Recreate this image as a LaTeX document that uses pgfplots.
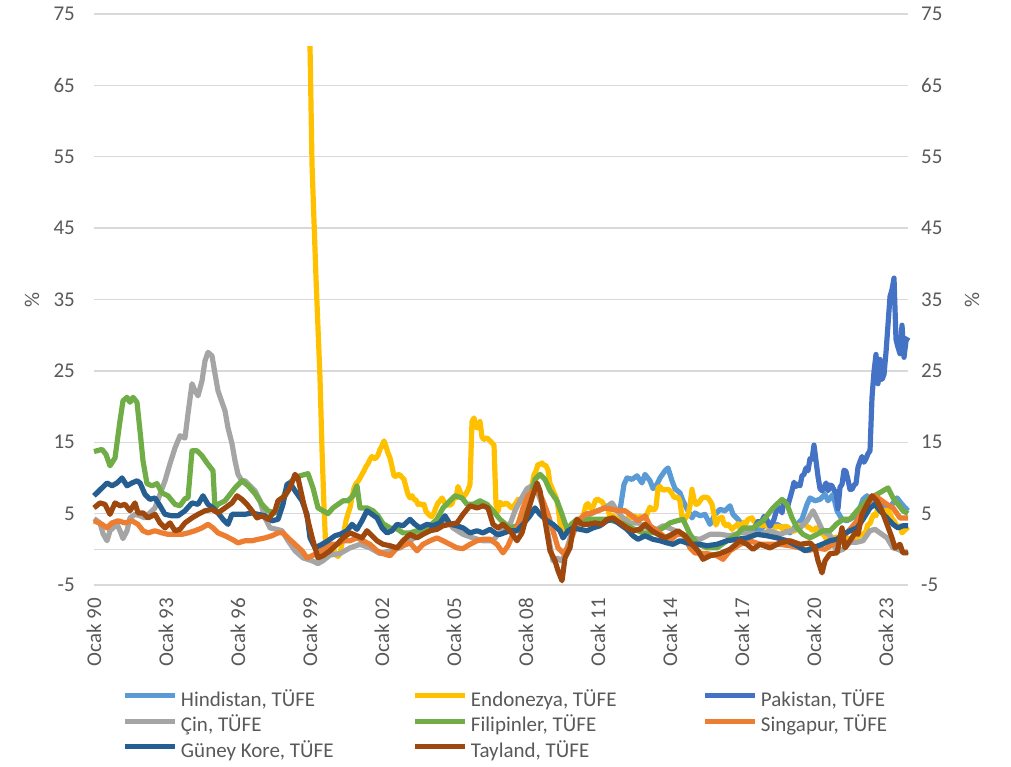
\documentclass[border=0pt]{standalone}
\usepackage{fontspec}
\setmainfont{Carlito}
\usepackage{pgfplots}
\pgfplotsset{compat=1.18}
\definecolor{cHin}{HTML}{5B9BD5}
\definecolor{cEnd}{HTML}{FFC000}
\definecolor{cPak}{HTML}{4472C4}
\definecolor{cCin}{HTML}{A5A5A5}
\definecolor{cFil}{HTML}{70AD47}
\definecolor{cSin}{HTML}{ED7D31}
\definecolor{cKor}{HTML}{255E91}
\definecolor{cTay}{HTML}{9E480E}
\definecolor{cGrid}{HTML}{D9D9D9}
\definecolor{cTxt}{HTML}{595959}
\newcommand{\bigf}{\fontsize{21}{25}\selectfont}
\newcommand{\lb}[1]{\makebox[230pt][l]{#1}}
\begin{document}
\begin{tikzpicture}
\useasboundingbox (0pt,0pt) rectangle (1011pt,766pt);
\begin{axis}[
  at={(94pt,181pt)}, anchor=south west,
  width=814pt, height=571pt, scale only axis,
  xmin=0, xmax=407, ymin=-5, ymax=75,
  clip=false,
  ytick={-5,5,15,25,35,45,55,65,75},
  xtick={0,36,72,108,144,180,216,252,288,324,360,396},
  xticklabels={Ocak 90,Ocak 93,Ocak 96,Ocak 99,Ocak 02,Ocak 05,Ocak 08,Ocak 11,Ocak 14,Ocak 17,Ocak 20,Ocak 23},
  axis line style={draw=none},
  major tick length=0pt,
  ymajorgrids, major grid style={cGrid, line width=1.3pt},
  tick label style={font=\bigf, color=cTxt, inner sep=0pt},
  /pgf/number format/assume math mode=true,
  yticklabel shift=19pt,
  xticklabel style={rotate=90, anchor=east},
  xticklabel shift=13pt,
  ylabel={\%}, ylabel style={at={(axis description cs:-0.0762,0.5)}, anchor=center, font=\bigf, color=cTxt},
  every axis plot/.append style={line width=5.2pt, line join=round, no markers},
  legend columns=3,
  legend cell align=left,
  legend style={at={(axis description cs:0.0356,-0.1795)}, anchor=north west, draw=none, fill=none,
     font=\bigf, text=cTxt, inner sep=0pt, outer sep=0pt, row sep=3pt,
     /tikz/every odd column/.append style={column sep=1pt},
     /tikz/every even column/.append style={column sep=0pt}},
  legend image code/.code={\draw[#1, line width=5pt] (0pt,0.3em) -- (50pt,0.3em);},
]
\draw[cGrid, line width=1.3pt] (axis cs:0,0) -- (axis cs:407,0);
\addplot[cHin] coordinates {(263,5.5) (265,9.1) (266.5,10.0) (269,9.8) (271.5,10.3) (274,9.3) (275.5,10.5) (278,9.6) (279.5,8.5) (281.5,9.1) (283,10.0) (285.5,11.0) (287,11.4) (289,9.6) (290.5,8.5) (293,7.9) (294.5,6.8) (297,5.4) (299,4.4) (300.5,5.1) (303,4.7) (305.5,4.9) (308,3.5) (310.5,4.9) (313,5.6) (315.5,5.4) (318,6.1) (319.5,4.9) (322,4.2) (324.5,3.3) (327,2.6) (329.5,3.0) (333,2.6) (335.5,3.5) (338,3.3) (341.5,3.5) (344.5,3.0) (348,2.3) (351.5,3.5) (354,4.2) (356.5,6.3) (358,7.2) (360.5,6.8) (363,7.0) (365.5,7.7) (367,6.8) (369.5,7.7) (371.5,5.4) (374,4.2) (376.5,4.0) (379,4.4) (381.5,4.7) (383,5.8) (384.5,7.0) (386.5,7.5) (389,6.8) (391.5,6.3) (394,6.1) (396.5,5.4) (399,6.3) (401.5,7.2) (404,6.3) (407,5.4)};
\addlegendentry{\lb{Hindistan, TÜFE}}
\addplot[cEnd] coordinates {(108,70.5) (109,54) (110,46) (111,38) (112,31) (113,24) (114,14) (115,6) (116,-0.5) (117,-1.0) (118,-0.3) (119,0.3) (120,-0.2) (121,-0.8) (122,-1.0) (123,-0.6) (124,0.8) (125,2.5) (126,4.0) (127,5.0) (128,5.8) (129,7.3) (130,8.6) (131,9.2) (132,9.5) (133,10.0) (134,10.5) (135,11.0) (136,11.6) (137,12.0) (138,12.6) (139,13.0) (140,12.7) (141,12.8) (142,13.2) (143,14.0) (144,14.5) (145,15.2) (146,14.4) (147,13.5) (148,12.8) (149,11.6) (150,10.3) (151,10.2) (152,10.5) (153,10.4) (154,10.1) (155,9.8) (156,8.7) (157,7.7) (158,7.2) (159,7.5) (160,7.0) (161,6.9) (162,6.3) (163,6.4) (164,6.2) (165,6.3) (166,5.3) (167,5.0) (168,4.7) (169,4.6) (170,5.1) (171,5.9) (172,6.5) (173,6.8) (174,7.2) (175,6.7) (176,6.3) (177,6.2) (178,6.2) (179,6.4) (180,7.3) (181,7.2) (182,8.8) (183,8.1) (184,7.4) (185,7.4) (186,7.8) (187,8.3) (188,9.1) (189,17.9) (190,18.4) (191,17.1) (192,17.0) (193,17.9) (194,15.7) (195,15.4) (196,15.6) (197,15.5) (198,15.2) (199,14.9) (200,14.6) (201,6.3) (202,5.3) (203,6.6) (204,6.3) (205,6.3) (206,6.5) (207,6.3) (208,6.0) (209,5.8) (210,6.1) (211,6.5) (212,7.0) (213,6.9) (214,6.7) (215,6.6) (216,7.4) (217,7.4) (218,8.2) (219,9.0) (220,10.4) (221,11.0) (222,11.9) (223,11.9) (224,12.1) (225,11.8) (226,11.7) (227,11.1) (228,9.2) (229,8.6) (230,7.9) (231,7.3) (232,6.0) (233,3.7) (234,2.7) (235,2.8) (236,2.8) (237,2.6) (238,2.4) (239,2.8) (240,3.7) (241,3.8) (242,3.4) (243,3.9) (244,4.2) (245,5.1) (246,6.2) (247,6.4) (248,5.8) (249,5.7) (250,6.3) (251,7.0) (252,7.0) (253,6.8) (254,6.7) (255,6.2) (256,6.0) (257,5.5) (258,4.6) (259,4.8) (260,4.6) (261,4.4) (262,4.2) (263,3.8) (264,3.7) (265,3.6) (266,4.0) (267,4.5) (268,4.5) (269,4.5) (270,4.6) (271,4.6) (272,4.3) (273,4.6) (274,4.3) (275,4.3) (276,4.6) (277,5.3) (278,5.9) (279,5.6) (280,5.5) (281,5.9) (282,8.6) (283,8.8) (284,8.4) (285,8.3) (286,8.4) (287,8.4) (288,8.2) (289,7.8) (290,7.3) (291,7.3) (292,7.3) (293,6.7) (294,4.5) (295,4.0) (296,4.5) (297,4.8) (298,6.2) (299,8.4) (300,7.0) (301,6.3) (302,6.4) (303,6.8) (304,7.2) (305,7.3) (306,7.3) (307,7.2) (308,6.8) (309,6.3) (310,4.9) (311,3.4) (312,4.1) (313,4.4) (314,4.5) (315,3.6) (316,3.3) (317,3.5) (318,3.2) (319,2.8) (320,3.1) (321,3.3) (322,3.6) (323,3.0) (324,3.5) (325,3.8) (326,3.6) (327,4.2) (328,4.3) (329,4.4) (330,3.9) (331,3.8) (332,3.7) (333,3.6) (334,3.3) (335,3.6) (336,3.3) (337,3.2) (338,3.4) (339,3.4) (340,3.2) (341,3.1) (342,3.2) (343,3.2) (344,2.9) (345,3.2) (346,3.2) (347,3.1) (348,2.8) (349,2.6) (350,2.5) (351,2.8) (352,3.3) (353,3.3) (354,3.3) (355,3.5) (356,3.4) (357,3.1) (358,3.0) (359,2.7) (360,2.7) (361,3.0) (362,3.0) (363,2.7) (364,2.2) (365,2.0) (366,1.5) (367,1.3) (368,1.4) (369,1.4) (370,1.6) (371,1.7) (372,1.6) (373,1.4) (374,1.4) (375,1.4) (376,1.7) (377,1.3) (378,1.5) (379,1.6) (380,1.6) (381,1.7) (382,1.8) (383,1.9) (384,2.2) (385,2.1) (386,2.6) (387,3.5) (388,3.6) (389,4.4) (390,4.9) (391,4.7) (392,6.0) (393,5.7) (394,5.4) (395,5.5) (396,5.3) (397,5.5) (398,5.0) (399,4.3) (400,4.0) (401,3.5) (402,3.1) (403,3.3) (404,2.3) (405,2.6) (406,2.9) (407,2.6)};
\addlegendentry{\lb{Endonezya, TÜFE}}
\addplot[cPak] coordinates {(330,2.9) (331,3.4) (332,3.9) (333,3.8) (334,4.0) (335,4.6) (336,4.4) (337,3.8) (338,3.2) (339,3.7) (340,4.2) (341,5.2) (342,5.8) (343,5.8) (344,5.1) (345,6.8) (346,6.5) (347,6.2) (348,7.2) (349,8.2) (350,9.4) (351,8.8) (352,9.1) (353,8.9) (354,10.3) (355,10.5) (356,11.4) (357,11.0) (358,12.7) (359,12.6) (360,14.6) (361,12.4) (362,10.2) (363,8.5) (364,8.2) (365,8.6) (366,9.3) (367,8.2) (368,9.0) (369,8.9) (370,8.3) (371,8.0) (372,5.7) (373,8.7) (374,9.1) (375,11.1) (376,10.9) (377,9.7) (378,8.4) (379,8.4) (380,9.0) (381,9.2) (382,11.5) (383,12.3) (384,13.0) (385,12.2) (386,12.7) (387,13.4) (388,13.8) (389,21.3) (390,24.9) (391,27.3) (392,23.2) (393,26.6) (394,23.8) (395,24.5) (396,27.6) (397,31.5) (398,35.4) (399,36.4) (400,38.0) (401,29.4) (402,28.3) (403,27.4) (404,31.4) (405,26.9) (406,29.2) (407,29.7)};
\addlegendentry{Pakistan, TÜFE}
\addplot[cCin] coordinates {(0,4.3) (3,3.7) (4.5,2.2) (6.5,1.2) (8,2.6) (9.5,3.0) (11.5,3.5) (13,2.6) (14.5,1.5) (16.5,2.6) (18,4.4) (20.5,4.9) (23,4.7) (25.5,4.4) (28,5.1) (30.5,5.8) (33,7.7) (35.5,9.6) (38,12.0) (40.5,14.2) (43,15.9) (45.5,15.6) (47,19.0) (49,23.2) (50.5,22.2) (52,21.5) (54,23.6) (55.5,26.4) (57,27.6) (59,27.1) (60.5,24.6) (62,22.2) (64,20.6) (65.5,19.4) (67,17.0) (69,14.8) (70.5,12.4) (72,10.5) (74,9.6) (75.5,9.6) (78,8.9) (80.5,8.2) (83,6.8) (85.5,4.4) (88,3.0) (91.5,2.8) (94,2.6) (97,1.2) (100.5,-0.2) (104.5,-1.2) (109,-1.6) (112,-2.0) (114.5,-1.6) (118,-0.8) (123,-0.6) (128,0.2) (133,0.7) (138,0.2) (143,-0.6) (148,-0.2) (153,0.2) (158,1.2) (163,2.1) (168,2.6) (173,3.3) (176.5,4.2) (179.5,3.0) (184.5,2.1) (189.5,1.6) (194.5,1.2) (199.5,1.2) (204.5,3.0) (208,3.5) (210.5,5.4) (213,6.8) (216.5,8.5) (219,8.9) (221.5,8.2) (224,6.3) (226.5,3.0) (228,0.5) (229.5,-1.6) (231.5,-1.2) (233.5,-1.6) (235,-1.0) (236.5,0.2) (238,1.5) (239.5,3.0) (242,3.5) (244,4.2) (248,4.9) (251.5,5.4) (255.5,5.8) (259,6.5) (261.5,5.4) (264.5,4.4) (268,3.7) (272,3.7) (276.5,3.0) (281.5,2.8) (284.5,3.3) (289,2.8) (293,2.3) (298,1.6) (303,1.4) (308,2.1) (313,2.1) (318,1.9) (323,2.3) (328,2.3) (333,2.1) (338,2.6) (343,2.1) (348,2.6) (353,3.0) (356.5,4.0) (359.5,5.4) (362,4.0) (364.5,2.5) (368,2.0) (370,0.5) (371.5,-0.3) (374.5,0.0) (378,1.0) (381.5,1.0) (384.5,1.2) (388,2.6) (390.5,2.8) (393,2.3) (396.5,1.6) (399.5,0.2) (402,0.0) (405.5,-0.5) (407,-0.3)};
\addlegendentry{\lb{Çin, TÜFE}}
\addplot[cFil] coordinates {(0,13.7) (4,14.0) (6,13.3) (8,11.7) (10.5,12.8) (13,18.0) (14.5,20.8) (16.5,21.3) (18,20.6) (19.5,21.3) (21.5,20.6) (23,16.6) (24.5,12.4) (26.5,9.2) (29,8.9) (31.5,9.2) (34,7.9) (37,7.5) (40.5,6.3) (43,6.1) (45.5,7.1) (47,7.2) (49,13.8) (51.5,13.8) (54,13.1) (56.5,12.1) (59.5,11.0) (60.5,5.8) (62,6.3) (65.5,6.8) (68,7.7) (70.5,8.6) (74,9.6) (77,8.9) (80.5,7.8) (84,6.3) (87,5.4) (90.5,5.1) (94,6.8) (97,9.1) (100.5,10.0) (103,10.3) (107,10.6) (109.5,8.6) (112,5.8) (114.5,5.4) (117,5.0) (119.5,5.8) (122,6.3) (124.5,6.8) (127,6.8) (129.5,7.5) (131.5,8.9) (133,5.8) (136.5,5.8) (139.5,5.4) (142,4.7) (144.5,3.6) (148,3.0) (151.5,2.85) (154.5,2.3) (158,2.3) (161.5,2.6) (164.5,2.85) (168,3.3) (171.5,4.2) (174.5,5.8) (178,6.8) (180.5,7.5) (184,7.2) (186.5,6.3) (189.5,6.3) (193,6.8) (196.5,6.3) (199.5,5.4) (203,4.2) (208,3.0) (211.5,3.3) (214.5,4.9) (218,7.2) (220.5,9.8) (223,10.5) (225.5,9.8) (228,8.2) (231.5,6.8) (234,4.9) (236.5,2.85) (239,3.6) (241.5,4.2) (248,4.2) (256.5,4.2) (264.5,3.6) (269.5,2.9) (274.5,2.3) (279.5,2.3) (284.5,3.0) (288,3.7) (291.5,4.0) (294.5,4.2) (298,2.1) (301.5,0.8) (306.5,0.2) (311.5,0.2) (316.5,1.2) (321.5,2.1) (324.5,3.0) (329.5,3.0) (334.5,4.0) (339.5,5.8) (344,7.0) (346.5,6.3) (349,4.4) (351.5,3.0) (354.5,2.1) (358,1.6) (361.5,2.1) (364.5,2.6) (368,2.6) (371.5,3.6) (374.5,4.2) (378,4.2) (381.5,5.4) (384.5,6.3) (388,7.2) (391.5,7.7) (394.5,8.2) (397,8.6) (399.5,7.2) (402,6.3) (404.5,5.4) (407,5.0)};
\addlegendentry{\lb{Filipinler, TÜFE}}
\addplot[cSin] coordinates {(0,4.0) (4,3.5) (6.5,3.0) (9,3.7) (12,4.0) (15.5,3.7) (19,4.0) (22,3.5) (24.5,2.6) (27,2.3) (30.5,2.6) (34,2.3) (37,2.1) (40.5,2.1) (44,2.1) (47,2.3) (50.5,2.6) (54,3.0) (57,3.5) (59.5,3.0) (62,2.3) (65.5,1.9) (69,1.4) (72,0.9) (75.5,1.2) (79,1.2) (82,1.4) (85.5,1.6) (89,1.9) (92,2.3) (94.5,2.3) (97,1.6) (100.5,0.7) (104,-0.2) (106.5,-1.2) (109,-0.9) (112,-0.5) (115.5,0.2) (119,0.7) (121.5,0.7) (124.5,1.2) (128,1.2) (131.5,1.6) (134.5,1.2) (138,0.7) (141.5,-0.2) (144.5,-0.6) (148,-0.9) (151.5,0.2) (154.5,0.5) (158,0.9) (161.5,-0.2) (164.5,0.7) (168,1.2) (171.5,1.6) (174.5,1.2) (178,0.7) (181.5,0.2) (184.5,0.1) (188,0.7) (191.5,1.2) (194.5,1.4) (198,1.4) (201.5,0.7) (204.5,-0.5) (207,0.5) (209.5,2.1) (212,3.5) (214.5,5.8) (217,7.5) (219.5,8.2) (222,8.2) (224.5,6.8) (227,4.9) (229.5,2.6) (232,0.2) (234.5,-0.5) (237,0.2) (239.5,2.1) (242,4.0) (245.5,4.9) (249,5.1) (252,5.4) (255.5,5.8) (259,5.6) (262,5.4) (265.5,5.4) (269,4.7) (272,4.0) (275.5,4.7) (278,3.3) (281.5,2.6) (284.5,1.9) (288,1.2) (291.5,2.1) (294.5,2.1) (298,0.2) (300.5,-0.5) (306.5,-0.6) (311.5,-0.9) (314.5,-1.4) (318,-0.2) (323,0.7) (328,1.2) (333,0.7) (338,0.7) (343,0.7) (348,0.5) (353,0.2) (357,-0.2) (361.5,0.2) (365.5,0.0) (369.5,0.7) (374,1.6) (378,2.8) (381.5,4.0) (384.5,5.4) (388,6.8) (390.5,7.5) (393,7.0) (396.5,6.3) (399.5,5.8) (403,4.4) (407,4.4)};
\addlegendentry{\lb{Singapur, TÜFE}}
\addplot[cKor] coordinates {(0,7.5) (4,8.6) (6.5,9.3) (9,8.9) (11.5,9.3) (14,10.0) (16.5,8.9) (19,9.3) (21.5,9.6) (23,9.3) (25.5,7.7) (28,7.0) (30.5,7.2) (33,6.1) (35.5,4.9) (39,4.7) (42,4.7) (45.5,5.4) (49,6.5) (52,6.3) (54.5,7.5) (57,6.3) (59.5,5.8) (62,5.1) (64.5,4.2) (67,3.5) (69,4.9) (72,4.9) (75.5,4.9) (79,5.1) (82,4.9) (85.5,4.7) (89,4.0) (92,4.2) (94.5,6.3) (96.5,9.1) (98,9.3) (100.5,8.2) (104,6.8) (106.5,4.9) (108,1.6) (110.5,0.2) (114,0.7) (117,1.2) (120.5,1.9) (123,2.1) (126.5,2.6) (129,3.5) (131.5,2.8) (134,4.0) (136.5,5.4) (139,4.9) (141.5,4.4) (144,3.0) (146.5,2.3) (149,2.6) (151.5,3.5) (154.5,3.3) (158,4.2) (160.5,3.5) (163,3.0) (166.5,3.5) (169.5,3.3) (173,3.7) (175.5,4.7) (178,3.5) (181.5,3.3) (184.5,3.0) (188,2.3) (191.5,2.6) (194.5,2.3) (198,2.8) (201.5,2.1) (203,2.1) (208,2.6) (211.5,2.6) (214.5,3.5) (218,4.7) (220.5,5.8) (223,4.9) (226.5,4.0) (229.5,3.5) (233,2.6) (234.5,1.6) (237,2.6) (239.5,3.0) (243,2.8) (246.5,2.6) (249.5,3.0) (253,3.3) (256.5,4.0) (259.5,4.2) (263,3.5) (266.5,2.8) (269.5,1.9) (272,1.4) (275.5,1.9) (279.5,1.4) (283,1.2) (286.5,0.9) (289.5,0.7) (293,1.2) (296.5,0.9) (299.5,0.7) (303,0.7) (306.5,0.5) (311.5,0.7) (316.5,1.2) (321.5,1.4) (326.5,1.6) (331.5,2.1) (336.5,1.9) (341.5,1.6) (346.5,1.2) (351.5,0.5) (355.5,-0.2) (359.5,0.2) (364,0.7) (368,1.2) (371.5,1.4) (374.5,2.1) (378,2.6) (381.5,3.0) (384.5,4.2) (388,5.8) (390.5,6.3) (393,5.4) (396.5,4.4) (399.5,3.5) (402,3.0) (404.5,3.3) (407,3.3)};
\addlegendentry{\lb{Güney Kore, TÜFE}}
\addplot[cTay] coordinates {(0,5.8) (3,6.5) (5.5,6.3) (8,4.9) (10.5,6.5) (13,6.1) (15.5,6.3) (18,5.4) (20.5,6.5) (22,5.1) (24.5,5.1) (27,4.4) (30.5,4.9) (33,3.7) (35.5,3.0) (38,3.7) (40.5,2.6) (43,2.8) (45.5,3.7) (49,4.4) (52,4.9) (55.5,5.4) (59,5.6) (62,5.1) (65.5,5.8) (69,6.5) (71.5,7.5) (74,7.0) (76.5,6.3) (79,5.4) (81.5,4.4) (84,4.7) (87,4.2) (90.5,5.4) (92,6.8) (95.5,7.5) (98,8.6) (100.5,10.5) (102,10.0) (104.5,6.8) (107,4.0) (109.5,1.2) (112,-1.2) (114.5,-0.9) (118,-0.2) (121.5,0.7) (124.5,1.6) (128,2.3) (131.5,1.9) (134,1.6) (136.5,2.6) (139,1.9) (141.5,1.2) (144.5,0.7) (148,0.5) (151.5,0.2) (154.5,1.2) (158,2.1) (161.5,1.6) (164.5,2.1) (168,2.6) (171.5,2.8) (174.5,3.3) (178,3.5) (181.5,3.7) (184.5,4.9) (188,6.1) (191.5,5.8) (194.5,6.1) (197,5.8) (199.5,3.5) (202,3.0) (204.5,3.5) (208,2.6) (211.5,1.2) (214,2.3) (216.5,4.9) (219,7.2) (221.5,9.3) (223,8.2) (225.5,4.0) (228,-0.2) (230.5,-1.6) (232,-3.0) (234,-4.4) (235.5,-1.2) (238,0.2) (239.5,2.8) (241.5,4.2) (244,3.5) (247,3.5) (250.5,3.7) (254,3.5) (256.5,4.2) (259.5,4.4) (263,3.7) (266.5,3.0) (269.5,2.6) (273,2.8) (275.5,3.5) (279,2.6) (282,2.1) (285.5,1.6) (289,2.1) (292,2.6) (295.5,1.9) (299,0.7) (302,-0.2) (304.5,-1.4) (308,-0.9) (313,-0.6) (318,0.0) (323,1.2) (326.5,0.7) (329.5,0.0) (333,0.7) (338,0.2) (343,0.9) (348,1.2) (353,0.7) (358,0.9) (360.5,0.2) (362,-1.6) (364,-3.3) (365.5,-1.6) (368,-0.6) (371.5,-0.5) (374,3.0) (375.5,0.2) (378,1.2) (380.5,2.3) (382,2.1) (384,4.9) (386.5,6.3) (389,7.5) (391.5,6.8) (394,5.4) (396.5,3.5) (399,1.6) (400.5,0.2) (403,0.7) (404.5,-0.5) (407,-0.5)};
\addlegendentry{Tayland, TÜFE}
\end{axis}
\begin{axis}[
  at={(94pt,181pt)}, anchor=south west,
  width=814pt, height=571pt, scale only axis,
  xmin=0, xmax=407, ymin=-5, ymax=75,
  axis x line=none, axis y line*=right,
  y axis line style={draw=none},
  ytick={-5,5,15,25,35,45,55,65,75},
  major tick length=0pt,
  tick label style={font=\bigf, color=cTxt, inner sep=0pt},
  /pgf/number format/assume math mode=true,
  yticklabel shift=13pt,
  ylabel={\%}, ylabel style={at={(axis description cs:1.0786,0.5)}, anchor=center, font=\bigf, color=cTxt},
]
\end{axis}
\end{tikzpicture}
\end{document}
